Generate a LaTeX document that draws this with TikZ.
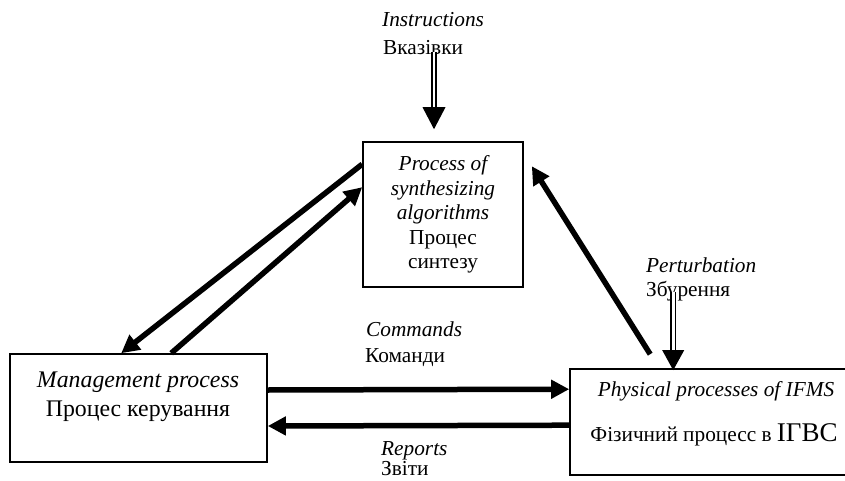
\documentclass[tikz,border=0pt]{standalone}
\usepackage{fontspec}
\setmainfont{Liberation Serif}
\usetikzlibrary{arrows.meta,calc}
\begin{document}
\begin{tikzpicture}[x=1pt,y=-1pt,
  txt/.style={font=\fontsize{21.3}{24.5}\selectfont, inner sep=0pt},
  bigtxt/.style={font=\fontsize{23.8}{29}\selectfont, inner sep=0pt},
  box/.style={draw, line width=1.6pt, inner sep=0pt},
  thickarrow/.style={line width=5.5pt, -{Triangle[length=18pt,width=18pt]}},
  dblshaft/.style={double, double distance=2.6pt, line width=1.8pt}]
\useasboundingbox (0,0) rectangle (845,481);
\clip (0,0) rectangle (845,481);
% boxes
\node[box, minimum width=160pt, minimum height=145pt, align=center, txt] (synth) at (443,214.5)
  {\itshape Process of\\ \itshape synthesizing\\ \itshape algorithms\\ Процес\\ синтезу};
\node[box, minimum width=257pt, minimum height=108pt] (mgmt) at (138.5,408) {};
\node[bigtxt, anchor=base] (mgmtE) at (138,387) {\itshape Management process};
\node[bigtxt, anchor=base] (mgmtU) at (138,416) {Процес керування};
\node[box, minimum width=290pt, minimum height=106pt] (phys) at (715,422) {};
\node[txt, anchor=base] (physE) at (716,396) {\itshape Physical processes of IFMS};
\node[txt, anchor=base] (physU) at (714,441) {Фізичний процесс в {\fontsize{27}{30}\selectfont ІГВС}};
% labels
\node[txt, anchor=base west] (instrE) at (382,27) {\itshape Instructions};
\node[txt, anchor=base west] (instrU) at (383,55) {Вказівки};
\node[txt, anchor=base west] (pertE) at (646,272) {\itshape Perturbation};
\node[txt, anchor=base west] (pertU) at (646,296) {Збурення};
\node[txt, anchor=base west] (cmdE) at (366,336) {\itshape Commands};
\node[txt, anchor=base west] (cmdU) at (365,362) {Команди};
\node[txt, anchor=base west] (repE) at (381,455) {\itshape Reports};
\node[txt, anchor=base west] (repU) at (381,475) {Звіти};
% thick arrows
\draw[thickarrow] ($(synth.north west)+(0,23)$) -- ($(mgmt.north west)+(112,0)$);
\draw[thickarrow] ($(mgmt.north west)+(162,0)$) -- ($(synth.north west)+(0,46)$);
\draw[thickarrow] ($(phys.north west)+(81,-14)$) -- ($(synth.north east)+(8,25)$);
\draw[thickarrow] ($(mgmt.east)+(0,-18)$) -- ($(phys.north west)+(0,21)$);
\draw[thickarrow] ($(phys.north west)+(0,57)$) -- ($(mgmt.east)+(0,18)$);
% double arrows
\coordinate (iTip) at ($(synth.north)+(-9,-12)$);
\coordinate (iTop) at ($(iTip)+(0,-77)$);
\draw[dblshaft] (iTop) -- ($(iTip)+(0,-21)$);
\fill (iTip) -- ++(-11.5,-22) -- ++(23,0) -- cycle;
\coordinate (pTip) at ($(phys.north west)+(104,2)$);
\coordinate (pTop) at ($(pTip)+(0,-78)$);
\draw[dblshaft] (pTop) -- ($(pTip)+(0,-19)$);
\fill (pTip) -- ++(-11,-20) -- ++(22,0) -- cycle;
\end{tikzpicture}
\end{document}
